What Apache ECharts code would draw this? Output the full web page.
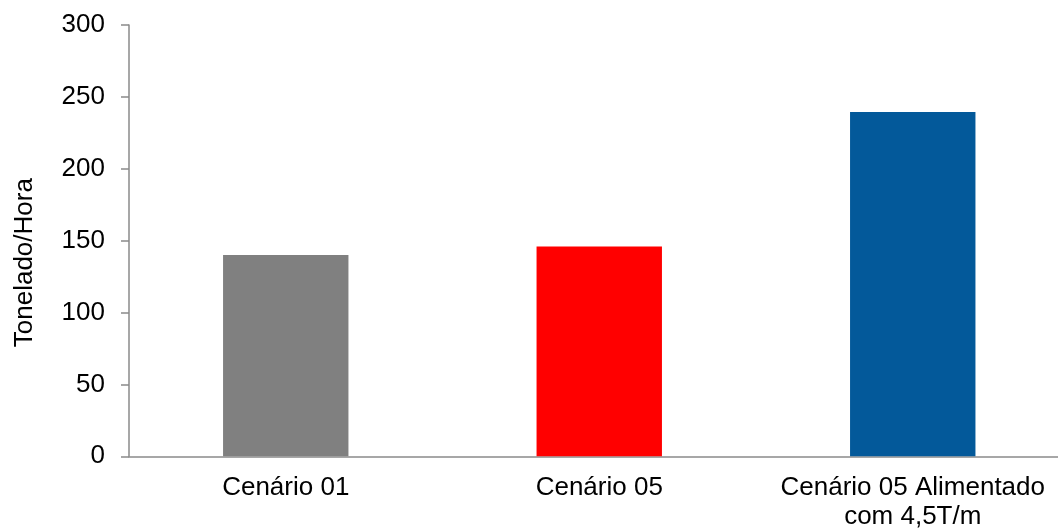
<!DOCTYPE html>
<html>
<head>
<meta charset="utf-8">
<script src="https://cdn.jsdelivr.net/npm/echarts@6/dist/echarts.min.js"></script>
<style>html,body{margin:0;padding:0;background:#fff;}#c{width:1058px;height:529px;}</style>
</head>
<body>
<div id="c"></div>
<script>
const categories = ['Cenário 01', 'Cenário 05', 'Cenário 05 Alimentado\ncom 4,5T/m'];
const values = [140, 146, 239.5];
const barColors = ['#808080', '#FF0000', '#03599A'];
const yTicks = [0, 50, 100, 150, 200, 250, 300];
const yName = 'Tonelado/Hora';

const chart = echarts.init(document.getElementById('c'));
const font = '"Liberation Sans", Arial, sans-serif';
chart.setOption({
  animation: false,
  grid: { left: 129, top: 25, height: 431.3, width: 940.5, containLabel: false, outerBoundsMode: 'none' },
  xAxis: {
    type: 'category',
    data: categories,
    axisLine: { lineStyle: { color: '#8a8a8a', width: 1.5 } },
    axisTick: { show: false },
    axisLabel: { color: '#000', fontSize: 26, fontFamily: font, margin: 17, lineHeight: 29, interval: 0 }
  },
  yAxis: {
    type: 'value',
    min: yTicks[0],
    max: yTicks[yTicks.length - 1],
    interval: 50,
    name: yName,
    nameLocation: 'middle',
    nameGap: 91,
    nameTextStyle: { color: '#000', fontSize: 26, fontFamily: font, padding: [0, 44, 0, 0] },
    splitLine: { show: false },
    axisLine: { show: true, lineStyle: { color: '#8a8a8a', width: 1.5 } },
    axisTick: { show: true, length: 8, lineStyle: { color: '#8a8a8a', width: 1.5 } },
    axisLabel: { color: '#000', fontSize: 26, fontFamily: font, margin: 24 }
  },
  series: [{
    type: 'bar',
    data: values.map((v, i) => ({ value: v, itemStyle: { color: barColors[i] } })),
    barWidth: '40%'
  }]
});
</script>
</body>
</html>
